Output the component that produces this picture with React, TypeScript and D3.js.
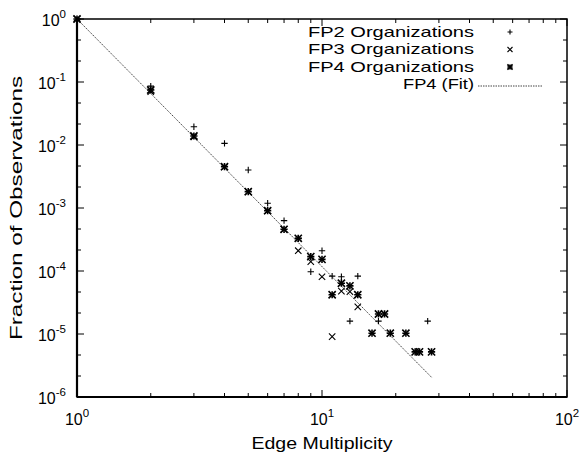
import React from "react";
import * as d3 from "d3";

// Edge multiplicity distribution for three framework programmes
const fp2X = [1, 2, 3, 4, 5, 6, 7, 8, 9, 10, 11, 12, 13, 14, 17, 27];
const fp2Y = [0.95, 0.086, 0.0195, 0.0106, 0.004, 0.00119, 0.00063, 0.00033, 9.75e-5, 0.00021, 8.3e-5, 8.1e-5, 1.6e-5, 8.3e-5, 1.6e-5, 1.6e-5];

const fp3X = [1, 2, 3, 4, 5, 6, 7, 8, 9, 10, 11, 12, 13, 14];
const fp3Y = [1, 0.07, 0.0135, 0.0045, 0.0018, 0.0009, 0.00046, 0.00021, 0.000141, 8.1e-5, 9.1e-6, 4.8e-5, 4.7e-5, 2.7e-5];

const fp4X = [1, 2, 3, 4, 5, 6, 7, 8, 9, 10, 11, 12, 13, 14, 16, 17, 18, 19, 22, 24, 25, 28];
const fp4Y = [1, 0.0747, 0.0139, 0.00453, 0.00182, 0.000907, 0.000459, 0.00033, 0.000169, 0.000153, 4.2e-5, 6.4e-5, 5.8e-5, 4.2e-5, 1.03e-5, 2.08e-5, 2.08e-5, 1.03e-5, 1.03e-5, 5.2e-6, 5.2e-6, 5.2e-6];

// Power-law fit: y = fitC * x^-fitExp over the observed range
const fitC = 1.0;
const fitExp = 3.93;
const fitRange = [1, 28];

const xDecades = [0, 1, 2];
const yDecades = [0, -1, -2, -3, -4, -5, -6];
const legendLabels = ["FP2 Organizations", "FP3 Organizations", "FP4 Organizations", "FP4 (Fit)"];

const W = 582;
const H = 459;
const M = { left: 77, right: 567, top: 19, bottom: 397 };
const FONT = "'Liberation Sans', Arial, Helvetica, sans-serif";

const x = d3.scaleLog().domain([1, 100]).range([M.left, M.right]);
const y = d3.scaleLog().domain([1e-6, 1]).range([M.bottom, M.top]);

function Plus({ cx, cy, r = 3.2 }: { cx: number; cy: number; r?: number }) {
  return (
    <path d={`M${cx - r},${cy}H${cx + r}M${cx},${cy - r}V${cy + r}`} stroke="#000" strokeWidth={1.1} fill="none" />
  );
}
function Cross({ cx, cy, r = 3.2 }: { cx: number; cy: number; r?: number }) {
  return (
    <path d={`M${cx - r},${cy - r}L${cx + r},${cy + r}M${cx - r},${cy + r}L${cx + r},${cy - r}`} stroke="#000" strokeWidth={1.1} fill="none" />
  );
}
function Star({ cx, cy, r = 3.6 }: { cx: number; cy: number; r?: number }) {
  return (
    <g>
      <path d={`M${cx - r},${cy}H${cx + r}M${cx},${cy - r}V${cy + r}`} stroke="#000" strokeWidth={1.6} fill="none" />
      <path d={`M${cx - r},${cy - r}L${cx + r},${cy + r}M${cx - r},${cy + r}L${cx + r},${cy - r}`} stroke="#000" strokeWidth={1.6} fill="none" />
    </g>
  );
}

export default function App() {
  const xMinor: number[] = [];
  for (let d = 0; d < 2; d++) for (let k = 2; k <= 9; k++) xMinor.push(k * Math.pow(10, d));
  const yMinor: number[] = [];
  for (let d = -6; d < 0; d++) {
    yMinor.push(Math.pow(10, d + 1 / 3));
    yMinor.push(Math.pow(10, d + 2 / 3));
  }

  const fitPts = d3.range(0, 41).map((i) => {
    const lx = Math.log10(fitRange[0]) + (i / 40) * (Math.log10(fitRange[1]) - Math.log10(fitRange[0]));
    const xv = Math.pow(10, lx);
    return [xv, fitC * Math.pow(xv, -fitExp)] as [number, number];
  });
  const fitLine = d3
    .line<[number, number]>()
    .x((d) => x(d[0]))
    .y((d) => y(d[1]))(fitPts);

  const legendRight = 474;
  const legendBase = [36.5, 54, 71.5, 89];
  const legendWidths = [166, 166, 166, 71];
  const symX = 510;

  return (
    <svg width={W} height={H} style={{ position: "fixed", left: 0, top: 0, background: "#fff" }} fontFamily={FONT}>
      <rect x={0} y={0} width={W} height={H} fill="#fff" />

      {/* minor ticks */}
      {xMinor.map((v) => (
        <g key={"xm" + v}>
          <line x1={x(v)} x2={x(v)} y1={M.bottom} y2={M.bottom - 4} stroke="#000" strokeWidth={1} />
          <line x1={x(v)} x2={x(v)} y1={M.top} y2={M.top + 4} stroke="#000" strokeWidth={1} />
        </g>
      ))}
      {yMinor.map((v, i) => (
        <g key={"ym" + i}>
          <line x1={M.left} x2={M.left + 4} y1={y(v)} y2={y(v)} stroke="#000" strokeWidth={1} />
          <line x1={M.right} x2={M.right - 4} y1={y(v)} y2={y(v)} stroke="#000" strokeWidth={1} />
        </g>
      ))}
      {/* major ticks */}
      {xDecades.map((d) => {
        const px = x(Math.pow(10, d));
        return (
          <g key={"xM" + d}>
            <line x1={px} x2={px} y1={M.bottom} y2={M.bottom - 7} stroke="#000" strokeWidth={1} />
            <line x1={px} x2={px} y1={M.top} y2={M.top + 7} stroke="#000" strokeWidth={1} />
            <text x={px} y={425} textAnchor="middle" fontSize={16}>
              10<tspan dy={-8} fontSize={11.5}>{d}</tspan>
            </text>
          </g>
        );
      })}
      {yDecades.map((d) => {
        const py = y(Math.pow(10, d));
        return (
          <g key={"yM" + d}>
            <line x1={M.left} x2={M.left + 7} y1={py} y2={py} stroke="#000" strokeWidth={1} />
            <line x1={M.right} x2={M.right - 7} y1={py} y2={py} stroke="#000" strokeWidth={1} />
            <text x={66} y={py + 7} textAnchor="end" fontSize={16}>
              10<tspan dy={-8} fontSize={11.5}>{d}</tspan>
            </text>
          </g>
        );
      })}

      {/* frame */}
      <rect x={M.left} y={M.top} width={M.right - M.left} height={M.bottom - M.top} fill="none" stroke="#000" strokeWidth={1.5} />
      <line x1={M.left} x2={M.left} y1={M.top} y2={M.bottom} stroke="#000" strokeWidth={2.2} />
      <line x1={M.left} x2={M.right} y1={M.bottom} y2={M.bottom} stroke="#000" strokeWidth={2.2} />

      {/* fit */}
      <path d={fitLine || ""} fill="none" stroke="#444" strokeWidth={1} strokeDasharray="1.5,1" />

      {/* data */}
      {fp2X.map((v, i) => (
        <Plus key={"p2" + i} cx={x(v)} cy={y(fp2Y[i])} />
      ))}
      {fp3X.map((v, i) => (
        <Cross key={"p3" + i} cx={x(v)} cy={y(fp3Y[i])} />
      ))}
      {fp4X.map((v, i) => (
        <Star key={"p4" + i} cx={x(v)} cy={y(fp4Y[i])} />
      ))}

      {/* legend */}
      {legendLabels.map((t, i) => (
        <text
          key={t}
          x={legendRight}
          y={legendBase[i]}
          textAnchor="end"
          fontSize={15}
          textLength={legendWidths[i]}
          lengthAdjust="spacingAndGlyphs"
        >
          {t}
        </text>
      ))}
      <Plus cx={symX} cy={legendBase[0] - 4.5} r={2.5} />
      <Cross cx={symX} cy={legendBase[1] - 4.5} r={2.5} />
      <Star cx={symX} cy={legendBase[2] - 4.5} r={2.6} />
      <line x1={478} x2={542} y1={legendBase[3] - 3} y2={legendBase[3] - 3} stroke="#444" strokeWidth={1} strokeDasharray="1.5,1" />

      {/* axis titles */}
      <text x={322} y={449} textAnchor="middle" fontSize={16} textLength={141} lengthAdjust="spacingAndGlyphs">
        Edge Multiplicity
      </text>
      <text
        transform="translate(22,208) rotate(-90)"
        textAnchor="middle"
        fontSize={16}
        textLength={264}
        lengthAdjust="spacingAndGlyphs"
      >
        Fraction of Observations
      </text>
    </svg>
  );
}
